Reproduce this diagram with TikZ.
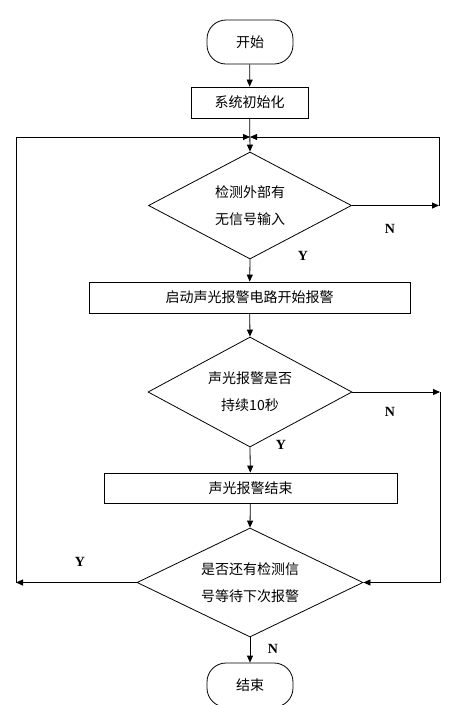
\documentclass[tikz,border=0pt]{standalone}
\usepackage{fontspec}
\newfontfamily\cjk{Noto Sans CJK SC}
\newfontfamily\yn{Liberation Serif}
\usetikzlibrary{shapes.geometric,arrows.meta}
\tikzset{
  term/.style={draw, rectangle, rounded corners=19pt, minimum width=86pt, minimum height=44pt, inner sep=0pt},
  proc/.style={draw, rectangle, minimum height=31pt, inner sep=0pt},
  cond/.style={draw, diamond, aspect=2, inner sep=0pt, align=center},
  lbl/.style={font=\yn\bfseries\fontsize{14}{16}\selectfont},
  arr/.style={-{Triangle[length=7pt,width=6pt]}}
}
\begin{document}
\begin{tikzpicture}[x=1pt, y=-1pt, line width=0.8pt, font=\cjk\fontsize{14}{27}\selectfont]
            \useasboundingbox (0,0) rectangle (462,705);
            \node[term] (start) at (250,42) {开始};
            \node[proc, minimum width=117pt] (init) at (249.5,102.5) {系统初始化};
            \node[cond, minimum width=203pt, minimum height=107pt] (chk) at (250,205.5) {检测外部有\\无信号输入};
            \node[proc, minimum width=321pt] (alarm) at (249.5,297.5) {启动声光报警电路开始报警};
            \node[cond, minimum width=204pt, minimum height=110pt] (dur) at (250,392) {声光报警是否\\持续10秒};
            \node[proc, minimum width=293pt, minimum height=30pt] (stop) at (250.5,488) {声光报警结束};
            \node[cond, minimum width=226pt, minimum height=109pt] (again) at (250,582.5) {是否还有检测信\\号等待下次报警};
            \node[term] (end) at (250,685) {结束};

            \coordinate (join) at (250,137);
            \coordinate (r1) at (439,205.5);
            \coordinate (r1t) at (439,137);
            \coordinate (r2) at (440,392);
            \coordinate (r3) at (440,582.5);
            \coordinate (l1) at (16,582.5);
            \coordinate (l1t) at (16,137);

            \draw[arr] (start) -- (init);
            \draw[arr] (init) -- (chk.north);
            \draw[arr] (chk.east) -- (r1);
            \draw[arr] (r1) -- (r1t) -- (join);
            \draw[arr] (chk.south) -- (alarm);
            \draw[arr] (alarm) -- (dur.north);
            \draw[arr] (dur.east) -- (r2);
            \draw[arr] (r2) -- (r3) -- (again.east);
            \draw[arr] (dur.south) -- (stop);
            \draw[arr] (stop) -- (again.north);
            \draw[arr] (again.west) -- (l1);
            \draw[arr] (l1) -- (l1t) -- (join);
            \draw[arr] (again.south) -- (end);

            \node[lbl] (n1) at (390,229) {N};
            \node[lbl] (y1) at (303,256) {Y};
            \node[lbl] (n2) at (390,412) {N};
            \node[lbl] (y2) at (281,445) {Y};
            \node[lbl] (y3) at (80,562) {Y};
            \node[lbl] (n3) at (273,649) {N};
\end{tikzpicture}
\end{document}
